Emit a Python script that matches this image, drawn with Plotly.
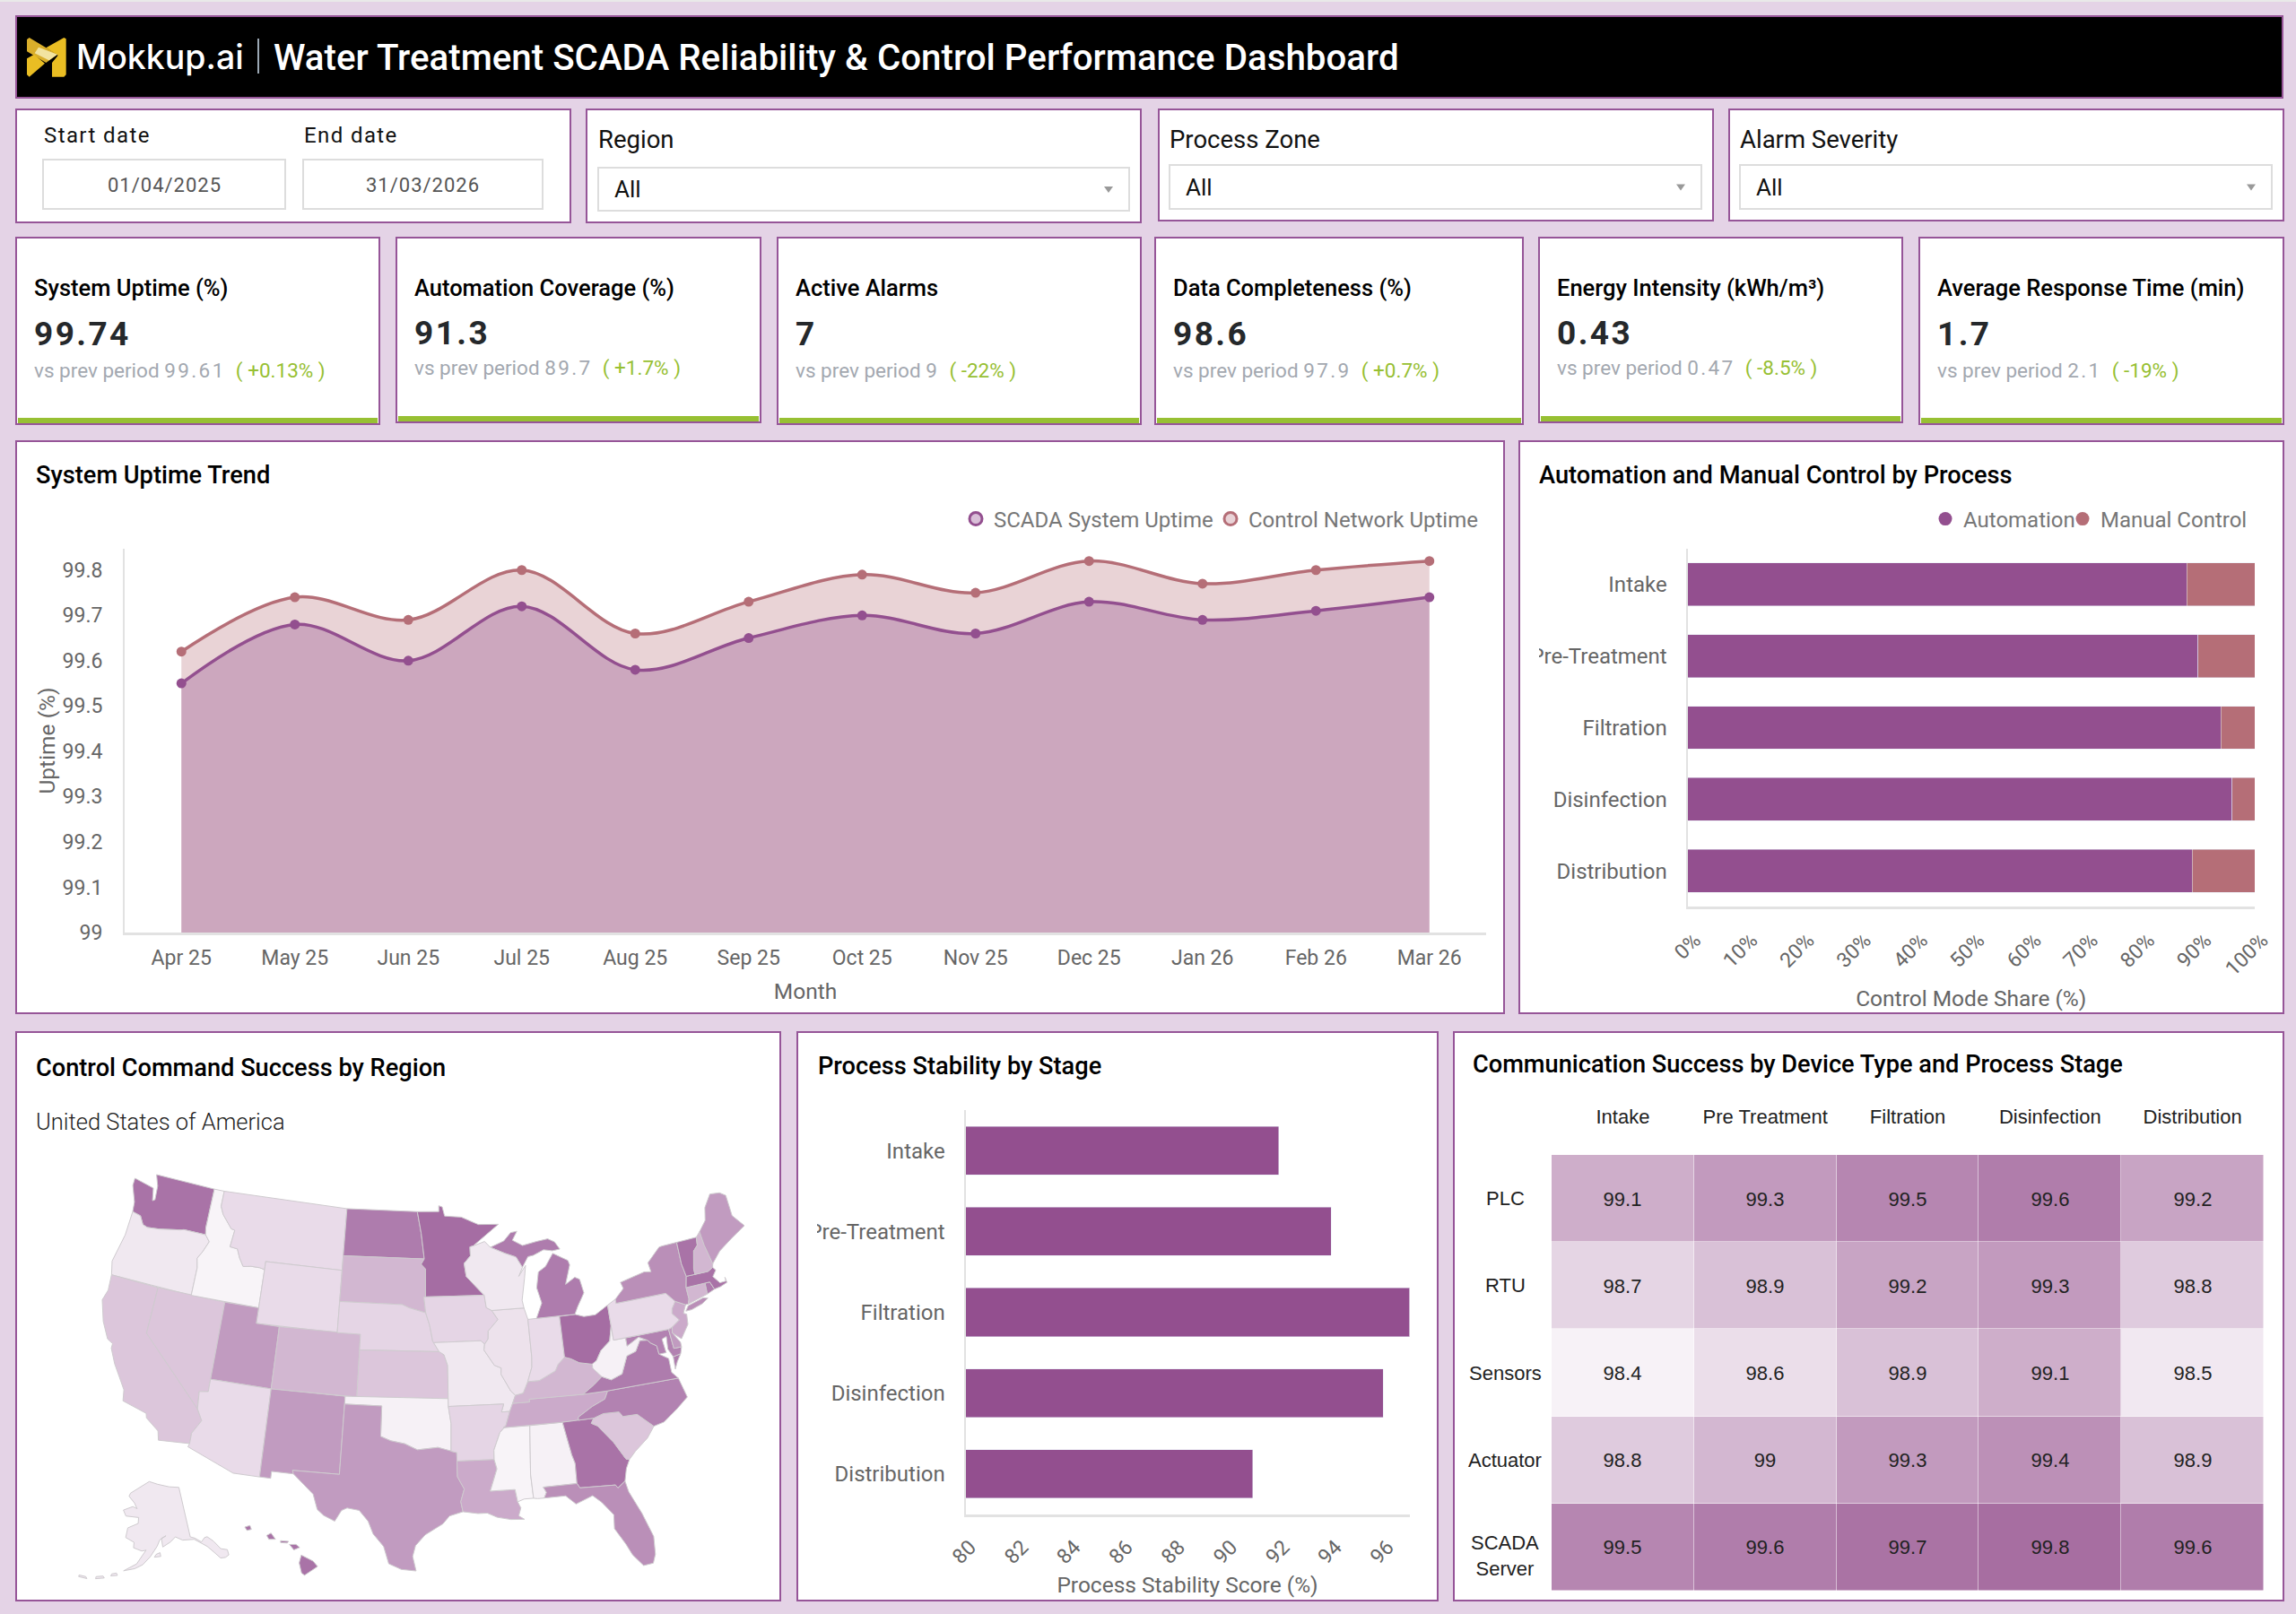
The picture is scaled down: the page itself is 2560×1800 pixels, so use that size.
import math
import plotly.graph_objects as go
from plotly.colors import sample_colorscale

W, H = 2560, 1800

PAGE_BG = "#E4D3E6"
EDGE = "#965598"
PURPLE = "#934F8F"
ROSE = "#B56E77"
GREEN = "#97C033"
AXIS = "#E2E2E2"
TICK = "#666666"

MONTHS = ["Apr 25", "May 25", "Jun 25", "Jul 25", "Aug 25", "Sep 25", "Oct 25", "Nov 25", "Dec 25", "Jan 26", "Feb 26", "Mar 26"]
SCADA_UPTIME = [99.55, 99.68, 99.60, 99.72, 99.58, 99.65, 99.70, 99.66, 99.73, 99.69, 99.71, 99.74]
NETWORK_UPTIME = [99.62, 99.74, 99.69, 99.80, 99.66, 99.73, 99.79, 99.75, 99.82, 99.77, 99.80, 99.82]

PROCESSES = ["Intake", "Pre-Treatment", "Filtration", "Disinfection", "Distribution"]
AUTOMATION = [88, 90, 94, 96, 89]
MANUAL = [12, 10, 6, 4, 11]
STABILITY = [92, 94, 97, 96, 91]

STAGES = ["Intake", "Pre Treatment", "Filtration", "Disinfection", "Distribution"]
DEVICES = ["PLC", "RTU", "Sensors", "Actuator", "SCADA Server"]
COMM_PLC = [99.1, 99.3, 99.5, 99.6, 99.2]
COMM_RTU = [98.7, 98.9, 99.2, 99.3, 98.8]
COMM_SENSORS = [98.4, 98.6, 98.9, 99.1, 98.5]
COMM_ACTUATOR = [98.8, 99, 99.3, 99.4, 98.9]
COMM_SCADA = [99.5, 99.6, 99.7, 99.8, 99.6]

KPI_TITLES = ["System Uptime (%)", "Automation Coverage (%)", "Active Alarms", "Data Completeness (%)", "Energy Intensity (kWh/m³)", "Average Response Time (min)"]
KPI_VALUES = ["99.74", "91.3", "7", "98.6", "0.43", "1.7"]
KPI_PREV = ["99.61", "89.7", "9", "97.9", "0.47", "2.1"]
KPI_DELTA = ["+0.13%", "+1.7%", "-22%", "+0.7%", "-8.5%", "-19%"]

# command success per state
STATE_VALUES = {
    "ID": 97.0, "OK": 97.05, "AL": 97.05, "MS": 97.0, "WV": 97.05, "OR": 97.2, "WI": 97.2, "AK": 97.2, "MO": 97.2,
    "MT": 97.4, "WY": 97.4, "IL": 97.3, "IN": 97.4, "PA": 97.4, "AZ": 97.4, "IA": 97.5, "NE": 97.5, "AR": 97.5,
    "CA": 97.75, "NV": 97.75, "KS": 97.75, "SC": 97.75, "SD": 98.0, "CO": 98.0, "KY": 98.0, "CT": 98.0, "NH": 98.0,
    "TN": 98.2, "LA": 98.2, "NJ": 98.2, "UT": 98.45, "NM": 98.45, "TX": 98.45, "ME": 98.45, "DE": 98.45, "NY": 98.65,
    "FL": 98.65, "NC": 98.85, "MD": 98.85, "ND": 98.95, "MI": 98.95, "VA": 98.95, "RI": 98.95, "GA": 99.1, "WA": 99.1,
    "VT": 99.1, "MA": 99.1, "HI": 99.1, "MN": 99.2, "OH": 99.2,
}

# plotly needs a CDN topojson for US states, so rough state outlines (lon, lat) live here
STATE_SHAPES = {
    "WA": [[(-124.7, 48.38), (-123.1, 48.15), (-122.75, 48.1), (-122.5, 47.3), (-122.3, 47.4), (-122.4, 48.3), (-122.8, 49), (-117.03, 49), (-117.04, 46.42), (-116.92, 45.99), (-118.98, 46), (-119.3, 45.93), (-121.2, 45.65), (-122.3, 45.55), (-122.76, 45.65), (-123.2, 46.15), (-124, 46.27), (-124.1, 46.9), (-124.7, 47.9)]],
    "OR": [[(-124.2, 42), (-124.5, 42.85), (-124.05, 44.7), (-124, 46.27), (-123.2, 46.15), (-122.76, 45.65), (-122.3, 45.55), (-121.2, 45.65), (-119.3, 45.93), (-118.98, 46), (-116.92, 45.99), (-116.46, 45.6), (-116.85, 44.9), (-117.22, 44.4), (-117.03, 43.8), (-117.03, 42)]],
    "CA": [[(-124.2, 42), (-120, 42), (-120, 39), (-114.63, 35), (-114.13, 34.3), (-114.72, 33.4), (-114.72, 32.72), (-117.12, 32.53), (-117.3, 33.1), (-118.4, 33.75), (-118.5, 34.03), (-120.5, 34.45), (-120.65, 35.15), (-121.9, 36.6), (-122.5, 37.5), (-122.5, 37.8), (-123, 38), (-123.75, 39), (-124.35, 40.3), (-124.1, 41)]],
    "NV": [[(-120, 42), (-114.04, 42), (-114.04, 36.2), (-114.75, 36.1), (-114.63, 35), (-120, 39)]],
    "ID": [[(-117.03, 49), (-116.05, 49), (-116.05, 48), (-115.7, 47.5), (-114.7, 46.7), (-114.35, 46.65), (-114.5, 45.55), (-113.8, 45.5), (-113.45, 44.95), (-113, 44.45), (-112.3, 44.55), (-111.5, 44.55), (-111.05, 44.48), (-111.05, 42), (-117.03, 42), (-117.03, 43.8), (-117.22, 44.4), (-116.85, 44.9), (-116.46, 45.6), (-116.92, 45.99), (-117.04, 46.42)]],
    "MT": [[(-116.05, 49), (-104.05, 49), (-104.05, 45), (-111.05, 45), (-111.05, 44.48), (-111.5, 44.55), (-112.3, 44.55), (-113, 44.45), (-113.45, 44.95), (-113.8, 45.5), (-114.5, 45.55), (-114.35, 46.65), (-114.7, 46.7), (-115.7, 47.5), (-116.05, 48)]],
    "WY": [[(-111.05, 45), (-104.05, 45), (-104.05, 41), (-111.05, 41)]],
    "UT": [[(-114.04, 42), (-111.05, 42), (-111.05, 41), (-109.05, 41), (-109.05, 37), (-114.04, 37)]],
    "CO": [[(-109.05, 41), (-102.05, 41), (-102.05, 37), (-109.05, 37)]],
    "AZ": [[(-114.04, 37), (-109.05, 37), (-109.05, 31.33), (-111.07, 31.33), (-114.8, 32.5), (-114.72, 32.72), (-114.72, 33.4), (-114.13, 34.3), (-114.63, 35), (-114.75, 36.1), (-114.04, 36.2)]],
    "NM": [[(-109.05, 37), (-103, 37), (-103.04, 32), (-106.62, 32), (-106.53, 31.78), (-108.2, 31.78), (-108.2, 31.33), (-109.05, 31.33)]],
    "ND": [[(-104.05, 49), (-97.23, 49), (-96.85, 47.6), (-96.56, 45.94), (-104.05, 45.94)]],
    "SD": [[(-104.05, 45.94), (-96.56, 45.94), (-96.85, 45.6), (-96.45, 45.3), (-96.45, 43.5), (-96.6, 43.5), (-96.44, 42.49), (-97.9, 42.8), (-98.5, 43), (-104.05, 43)]],
    "NE": [[(-104.05, 43), (-98.5, 43), (-97.9, 42.8), (-96.44, 42.49), (-96.1, 41.7), (-95.85, 40.7), (-95.31, 40), (-102.05, 40), (-102.05, 41), (-104.05, 41)]],
    "KS": [[(-102.05, 40), (-95.31, 40), (-94.9, 39.8), (-94.61, 39.11), (-94.62, 37), (-102.05, 37)]],
    "OK": [[(-103, 37), (-94.62, 37), (-94.62, 36.5), (-94.43, 35.4), (-94.48, 33.64), (-95.5, 33.9), (-97.1, 33.75), (-98.1, 34.13), (-99.2, 34.3), (-100, 34.56), (-100, 36.5), (-103, 36.5)]],
    "TX": [[(-106.62, 32), (-103.04, 32), (-103, 36.5), (-100, 36.5), (-100, 34.56), (-99.2, 34.3), (-98.1, 34.13), (-97.1, 33.75), (-95.5, 33.9), (-94.48, 33.64), (-94.04, 33.55), (-94.04, 32), (-93.55, 31.2), (-93.84, 30.4), (-93.7, 29.75), (-94.7, 29.5), (-95.2, 29), (-96.5, 28.3), (-97.2, 27.6), (-97.4, 26.9), (-97.15, 25.96), (-98.2, 26.05), (-99.1, 26.4), (-99.5, 27.5), (-100.3, 28.3), (-100.7, 29.1), (-101.4, 29.77), (-102.3, 29.88), (-102.7, 29.7), (-103.15, 28.98), (-104, 29.3), (-104.5, 29.65), (-104.9, 30.6), (-106.53, 31.78)]],
    "MN": [[(-97.23, 49), (-95.15, 49), (-95.15, 49.38), (-94.82, 49.3), (-94.6, 48.7), (-93, 48.6), (-91.4, 48.07), (-89.5, 48), (-92, 46.7), (-92.3, 46.65), (-92.29, 46.07), (-92.9, 45.6), (-92.75, 44.75), (-91.22, 43.5), (-96.45, 43.5), (-96.45, 45.3), (-96.85, 45.6), (-96.56, 45.94), (-96.85, 47.6)]],
    "IA": [[(-96.6, 43.5), (-91.22, 43.5), (-91.1, 42.7), (-90.64, 42.5), (-90.15, 41.9), (-91.05, 41.2), (-91.1, 40.7), (-91.42, 40.38), (-91.73, 40.61), (-95.77, 40.58), (-95.85, 40.7), (-96.1, 41.7), (-96.44, 42.49)]],
    "MO": [[(-95.77, 40.58), (-91.73, 40.61), (-91.42, 40.38), (-91.5, 40), (-90.7, 39), (-90.15, 38.8), (-90.2, 38.4), (-89.5, 37.3), (-89.15, 37), (-89.42, 36.5), (-89.7, 36), (-90.37, 36), (-90.15, 36.5), (-94.62, 36.5), (-94.62, 37), (-94.61, 39.11), (-94.9, 39.8), (-95.31, 40)]],
    "AR": [[(-94.62, 36.5), (-90.15, 36.5), (-90.37, 36), (-89.7, 36), (-90.1, 35.1), (-90.6, 34.7), (-91.15, 33.6), (-91.17, 33), (-94.04, 33), (-94.04, 33.55), (-94.48, 33.64), (-94.43, 35.4)]],
    "LA": [[(-94.04, 33), (-91.17, 33), (-91, 32.4), (-91.6, 31), (-89.73, 31), (-89.6, 30.2), (-89.4, 29.8), (-89.6, 29.3), (-89.2, 29.05), (-90.2, 29.1), (-91.2, 29.3), (-91.9, 29.6), (-92.6, 29.6), (-93.7, 29.75), (-93.84, 30.4), (-93.55, 31.2), (-94.04, 32)]],
    "MS": [[(-90.1, 35.1), (-90.3, 35), (-88.2, 35), (-88.47, 31.9), (-88.4, 30.35), (-89.1, 30.35), (-89.6, 30.2), (-89.73, 31), (-91.6, 31), (-91, 32.4), (-91.17, 33), (-91.15, 33.6), (-90.6, 34.7)]],
    "AL": [[(-88.2, 35), (-85.6, 35), (-85.18, 32.87), (-85, 32.3), (-85.05, 31), (-87.6, 31), (-87.4, 30.65), (-87.6, 30.3), (-88.1, 30.3), (-88.4, 30.35), (-88.47, 31.9)]],
    "TN": [[(-89.7, 36), (-89.42, 36.5), (-88.05, 36.5), (-88.07, 36.68), (-83.68, 36.6), (-81.68, 36.59), (-82, 36.1), (-83.1, 35.75), (-84.3, 35.2), (-84.32, 35), (-85.6, 35), (-88.2, 35), (-90.3, 35), (-90.1, 35.1)]],
    "KY": [[(-89.42, 36.5), (-89.15, 37), (-88.5, 37.1), (-88.05, 37.8), (-87.1, 37.8), (-86.3, 38.1), (-85.7, 38.3), (-85.4, 38.7), (-84.8, 39.1), (-84.3, 38.95), (-83.65, 38.63), (-82.6, 38.42), (-82.6, 38.15), (-81.97, 37.54), (-82.7, 37.1), (-83.68, 36.6), (-88.07, 36.68), (-88.05, 36.5)]],
    "IL": [[(-90.64, 42.5), (-87.8, 42.5), (-87.55, 41.75), (-87.53, 39.35), (-87.6, 38.7), (-88.05, 37.8), (-88.5, 37.1), (-89.15, 37), (-89.5, 37.3), (-90.2, 38.4), (-90.15, 38.8), (-90.7, 39), (-91.5, 40), (-91.42, 40.38), (-91.1, 40.7), (-91.05, 41.2), (-90.15, 41.9)]],
    "IN": [[(-87.55, 41.75), (-86.8, 41.76), (-84.8, 41.76), (-84.8, 39.1), (-85.4, 38.7), (-85.7, 38.3), (-86.3, 38.1), (-87.1, 37.8), (-88.05, 37.8), (-87.6, 38.7), (-87.53, 39.35)]],
    "OH": [[(-84.8, 41.72), (-83.45, 41.72), (-82.7, 41.5), (-81.7, 41.5), (-80.52, 41.98), (-80.52, 40.64), (-80.85, 39.7), (-81.7, 39.2), (-82.2, 38.6), (-82.6, 38.42), (-83.65, 38.63), (-84.3, 38.95), (-84.8, 39.1)]],
    "MI": [[(-86.8, 41.76), (-83.45, 41.72), (-83.1, 42.2), (-82.4, 43), (-82.6, 43.9), (-83, 44.07), (-83.9, 43.7), (-83.3, 44.9), (-83.4, 45.2), (-84.7, 45.78), (-85.5, 45), (-86.2, 44.7), (-86.5, 43.7), (-86.2, 42.7)],
           [(-90.4, 46.55), (-89.1, 46.9), (-88.4, 47.4), (-87.8, 47.45), (-88.3, 46.9), (-87.4, 46.5), (-86, 46.67), (-85, 46.75), (-84.4, 46.5), (-84, 46), (-84.7, 45.95), (-85.5, 46.08), (-86.5, 45.8), (-87, 45.75), (-87.6, 45.1), (-88.1, 45.8), (-89.1, 46.1)]],
    "WI": [[(-92.3, 46.65), (-92, 46.7), (-90.9, 46.95), (-90.4, 46.55), (-89.1, 46.1), (-88.1, 45.8), (-87.6, 45.1), (-88, 44.55), (-87.3, 45.2), (-87.5, 44.4), (-87.9, 43), (-87.8, 42.5), (-90.64, 42.5), (-91.1, 42.7), (-91.22, 43.5), (-92.75, 44.75), (-92.9, 45.6), (-92.29, 46.07)]],
    "GA": [[(-85.6, 35), (-84.32, 35), (-83.1, 35), (-83.35, 34.7), (-82.9, 34.48), (-81.85, 33.3), (-81.1, 32.1), (-80.85, 32.05), (-81.2, 31.5), (-81.45, 30.72), (-82.05, 30.36), (-82.2, 30.57), (-84.86, 30.7), (-85.05, 31), (-85, 32.3), (-85.18, 32.87)]],
    "FL": [[(-87.6, 31), (-85.05, 31), (-84.86, 30.7), (-82.2, 30.57), (-82.05, 30.36), (-81.45, 30.72), (-81.3, 30), (-80.6, 28.5), (-80.05, 26.9), (-80.15, 25.75), (-80.4, 25.2), (-81.1, 25.15), (-81.75, 25.95), (-82.1, 26.7), (-82.75, 27.8), (-82.65, 28.7), (-83.4, 29.6), (-84, 30.1), (-85.3, 29.7), (-86, 30.3), (-87.6, 30.3), (-87.4, 30.65)]],
    "SC": [[(-83.35, 34.7), (-83.1, 35), (-82.3, 35.2), (-81.05, 35.15), (-80.8, 34.82), (-79.67, 34.8), (-78.55, 33.86), (-79.2, 33.2), (-80.3, 32.5), (-80.85, 32.05), (-81.1, 32.1), (-81.85, 33.3), (-82.9, 34.48)]],
    "NC": [[(-84.32, 35), (-84.3, 35.2), (-83.1, 35.75), (-82, 36.1), (-81.68, 36.59), (-75.87, 36.55), (-75.5, 35.25), (-76.5, 34.65), (-77.7, 34), (-78.55, 33.86), (-79.67, 34.8), (-80.8, 34.82), (-81.05, 35.15), (-82.3, 35.2), (-83.1, 35)]],
    "VA": [[(-83.68, 36.6), (-81.68, 36.59), (-75.87, 36.55), (-76.3, 37), (-76.3, 37.9), (-77, 38.3), (-77.05, 38.85), (-77.5, 39.1), (-77.72, 39.32), (-78.35, 39.4), (-78.85, 38.77), (-79.65, 38.58), (-80.3, 37.5), (-81.25, 37.25), (-81.97, 37.54), (-82.7, 37.1)],
           [(-75.95, 37.15), (-75.9, 37.95), (-75.25, 38.03), (-75.65, 37.6)]],
    "WV": [[(-82.6, 38.42), (-82.2, 38.6), (-81.7, 39.2), (-80.85, 39.7), (-80.52, 40.64), (-80.52, 39.72), (-79.48, 39.72), (-79.48, 39.2), (-78.4, 39.62), (-77.72, 39.32), (-78.35, 39.4), (-78.85, 38.77), (-79.65, 38.58), (-80.3, 37.5), (-81.25, 37.25), (-81.97, 37.54), (-82.6, 38.15)]],
    "MD": [[(-79.48, 39.72), (-75.79, 39.72), (-75.7, 38.46), (-75.05, 38.45), (-75.25, 38.03), (-75.9, 37.95), (-76.2, 38.5), (-76.1, 39.3), (-76.5, 39.2), (-76.4, 38.3), (-77, 38.3), (-77.05, 38.85), (-77.5, 39.1), (-77.72, 39.32), (-78.4, 39.62), (-79.48, 39.2)]],
    "DE": [[(-75.79, 39.72), (-75.45, 39.8), (-75.55, 39.45), (-75.05, 38.75), (-75.05, 38.45), (-75.7, 38.46)]],
    "PA": [[(-80.52, 41.98), (-79.76, 42.27), (-79.76, 42), (-75.35, 42), (-74.7, 41.36), (-75.1, 40.95), (-75.2, 40.65), (-74.72, 40.15), (-75.45, 39.8), (-75.79, 39.72), (-80.52, 39.72), (-80.52, 40.64)]],
    "NJ": [[(-74.7, 41.36), (-73.9, 41), (-74.25, 40.5), (-74, 40.4), (-74.1, 39.75), (-74.9, 38.95), (-75.55, 39.45), (-75.45, 39.8), (-74.72, 40.15), (-75.2, 40.65), (-75.1, 40.95)]],
    "NY": [[(-79.76, 42), (-79.76, 42.27), (-78.9, 42.85), (-79.05, 43.27), (-76.8, 43.63), (-76.2, 43.55), (-76.3, 44.15), (-75, 44.98), (-74.7, 45), (-73.35, 45.01), (-73.4, 43.6), (-73.25, 42.75), (-73.5, 42.05), (-73.5, 41.3), (-73.65, 41), (-73.9, 41), (-74.7, 41.36), (-75.35, 42)],
           [(-74, 40.6), (-73.7, 40.9), (-72.3, 41.15), (-71.9, 41.05), (-72.5, 40.8), (-73.5, 40.6)]],
    "CT": [[(-73.5, 42.05), (-71.8, 42.02), (-71.85, 41.32), (-73.65, 41), (-73.5, 41.3)]],
    "RI": [[(-71.8, 42.02), (-71.38, 42.02), (-71.15, 41.5), (-71.85, 41.32)]],
    "MA": [[(-73.5, 42.05), (-73.25, 42.75), (-71.3, 42.7), (-70.8, 42.87), (-70.6, 42.65), (-71, 42.3), (-70.55, 41.8), (-70, 41.8), (-70, 42.05), (-69.95, 41.7), (-70.6, 41.55), (-71.15, 41.5), (-71.38, 42.02), (-71.8, 42.02)]],
    "VT": [[(-73.35, 45.01), (-71.5, 45.01), (-71.6, 44.5), (-72.05, 44.2), (-72.45, 43.1), (-72.46, 42.73), (-73.25, 42.75), (-73.4, 43.6)]],
    "NH": [[(-71.5, 45.01), (-71.08, 45.3), (-71, 44.4), (-70.7, 43.1), (-70.8, 42.87), (-71.3, 42.7), (-72.46, 42.73), (-72.45, 43.1), (-72.05, 44.2), (-71.6, 44.5)]],
    "ME": [[(-71.08, 45.3), (-70.3, 45.9), (-70, 46.7), (-69.2, 47.45), (-68.3, 47.35), (-67.8, 47.07), (-67.8, 45.7), (-67.45, 45.3), (-67, 44.85), (-68.5, 44.3), (-69.8, 43.75), (-70.7, 43.1), (-71, 44.4)]],
    "AK": [[(-141, 69.65), (-141, 60.3), (-139.5, 59.9), (-137.5, 58.9), (-136, 59.5), (-135, 59.5), (-133.4, 58.4), (-131.9, 56.6), (-130, 56), (-130.2, 55), (-131.5, 54.8), (-133, 55), (-134.5, 56.5), (-136, 57.8), (-137.5, 58.6), (-139.8, 59.7), (-144, 60), (-146.5, 60.8), (-148.5, 60), (-151.5, 59.2), (-151.8, 60.8), (-150, 61.2), (-152.5, 60.5), (-153.5, 59.4), (-156, 57.5), (-158.5, 56), (-161, 55.2), (-164.5, 54.6), (-160.5, 56.1), (-157.5, 58.7), (-159, 58.5), (-162, 59), (-162, 60), (-165.3, 60.7), (-165, 62.5), (-161, 63.5), (-161, 64.6), (-166.5, 64.6), (-168, 65.6), (-164, 66.5), (-162, 66.2), (-163.5, 67.2), (-166.5, 68.3), (-166, 68.9), (-162, 70), (-156.6, 71.35), (-152, 70.8), (-146, 70.1)],
           [(-154.6, 57.4), (-152.4, 57.5), (-152.6, 58.2), (-154, 57.9)],
           [(-168.2, 53.3), (-166.2, 53.6), (-166.6, 54), (-168, 53.7)],
           [(-172.5, 52.2), (-170, 52.7), (-170.5, 53), (-172.5, 52.6)],
           [(-177.5, 51.7), (-175, 51.8), (-175.5, 52.1), (-177.5, 52)]],
    "HI": [[(-155.9, 20.25), (-155.1, 19.85), (-154.8, 19.5), (-155.7, 18.95), (-155.9, 19.1), (-156.05, 19.75)],
           [(-156.7, 20.95), (-156.25, 20.95), (-156, 20.75), (-156.4, 20.6)],
           [(-158.25, 21.55), (-157.95, 21.7), (-157.65, 21.3), (-158.1, 21.3)],
           [(-159.75, 22.1), (-159.4, 22.2), (-159.3, 21.95), (-159.6, 21.88)],
           [(-157.3, 21.2), (-156.75, 21.15), (-156.85, 21.05), (-157.3, 21.08)]],
}


def px(x):
    return x / W


def py(y):
    return 1 - y / H


def albers(lon, lat, lon0, lat0, p1, p2):
    s1, s2 = math.radians(p1), math.radians(p2)
    n = (math.sin(s1) + math.sin(s2)) / 2
    c = math.cos(s1) ** 2 + 2 * n * math.sin(s1)
    rho = math.sqrt(c - 2 * n * math.sin(math.radians(lat))) / n
    rho0 = math.sqrt(c - 2 * n * math.sin(math.radians(lat0))) / n
    theta = n * math.radians(lon - lon0)
    return rho * math.sin(theta), rho0 - rho * math.cos(theta)


def project(state, lon, lat):
    # same insets as the usual Albers USA layout
    if state == "AK":
        x, y = albers(lon, lat, -156, 58.5, 55, 65)
        return x * 0.35 - 0.307, y * 0.35 - 0.201
    if state == "HI":
        x, y = albers(lon, lat, -160, 19.9, 8, 18)
        return x - 0.205, y - 0.212
    return albers(lon, lat, -96.6, 38.7, 29.5, 45.5)


fig = go.Figure()
shapes = []
notes = []


def rect(x0, y0, x1, y1, fill="white", line=EDGE, width=2, layer="below"):
    shapes.append(dict(type="rect", xref="paper", yref="paper", x0=px(x0), x1=px(x1), y0=py(y0), y1=py(y1),
                       fillcolor=fill, line=dict(color=line, width=width), layer=layer))


def poly(points, fill):
    d = "M" + " L".join(f"{px(x):.5f},{py(y):.5f}" for x, y in points) + " Z"
    shapes.append(dict(type="path", xref="paper", yref="paper", path=d, fillcolor=fill, line=dict(width=0), layer="below"))


def note(x, y, text, size=24, color="#000000", weight=400, family="Roboto", anchor="left", angle=0):
    notes.append(dict(xref="paper", yref="paper", x=px(x), y=py(y), text=text, showarrow=False, xanchor=anchor,
                      yanchor="middle", textangle=angle, font=dict(family=family, size=size, color=color, weight=weight)))


# page furniture
rect(0, 0, W, 2, fill="#E9E9E9", line="#E9E9E9", width=0)
rect(18, 18, 2545, 109, fill="#000000")
for x0, x1 in [(18, 636), (654, 1272)]:
    rect(x0, 122, x1, 248)
for x0, x1 in [(1292, 1910), (1928, 2546)]:
    rect(x0, 122, x1, 246)

# logo
ox, oy = 18, 20
logo_parts = [
    ([(167, 70), (160, 66), (100, 100), (140, 125), (120, 150), (120, 197), (160, 197), (167, 190)], "#E9BD23"),
    ([(36, 72), (44, 66), (138, 122), (100, 150), (36, 112)], "#D9AE2B"),
    ([(36, 136), (60, 122), (96, 152), (44, 197), (36, 190)], "#E9BD23"),
    ([(75, 98), (138, 122), (110, 142), (62, 118)], "#F2E3A0"),
]
for pts, col in logo_parts:
    poly([(ox + x / 3, oy + y / 3) for x, y in pts], col)
shapes.append(dict(type="line", xref="paper", yref="paper", x0=px(288), x1=px(288), y0=py(43), y1=py(82),
                   line=dict(color="#CFE0F0", width=1.5), layer="below"))
note(83, 63, "Mokkup.ai", size=37.5, color="white", weight=500, family="Inter")
note(303, 64, "Water Treatment SCADA Reliability &amp; Control Performance Dashboard", size=40.3, color="white", weight=500)

# filters
note(47, 151, '<span style="letter-spacing:1.4px">Start date</span>', size=24, color="#111111")
note(337, 151, '<span style="letter-spacing:1.4px">End date</span>', size=24, color="#111111")
for x0, x1, txt in [(48, 318, "01/04/2025"), (338, 605, "31/03/2026")]:
    rect(x0, 178, x1, 233, line="#DDDDDD", width=2)
    note((x0 + x1) / 2, 206, f'<span style="letter-spacing:1px">{txt}</span>', size=22, color="#555555", anchor="center")

filters = [("Region", 667, 1259, 187, 235), ("Process Zone", 1304, 1897, 184, 233), ("Alarm Severity", 1940, 2533, 184, 233)]
for label, x0, x1, y0, y1 in filters:
    note(x0 - 2, 155, label, size=27.5, color="#111111")
    rect(x0, y0, x1, y1, line="#DDDDDD", width=2)
    note(x0 + 16, (y0 + y1) / 2, "All", size=26, color="#111111")
    tx, ty = x1 - 23, (y0 + y1) / 2
    poly([(tx - 5, ty - 3), (tx + 5, ty - 3), (tx, ty + 4)], "#999999")

# KPI cards
card_edges = [(18, 423), (442, 848), (867, 1272), (1288, 1698), (1716, 2121), (2140, 2546)]
for i, (x0, x1) in enumerate(card_edges):
    shift = -2 if i in (1, 4) else 0
    rect(x0, 265, x1, 473 + shift)
    rect(x0 + 2, 466 + shift, x1 - 2, 472 + shift, fill=GREEN, line=GREEN, width=0)
    tx = x0 + 18
    note(tx, 321, KPI_TITLES[i], size=25.5, color="#000000", weight=500)
    note(tx, 373 + shift, f'<span style="letter-spacing:2.4px">{KPI_VALUES[i]}</span>', size=37, color="#25282B", weight=700)
    note(tx, 413 + shift,
         f'vs prev period <span style="letter-spacing:2.4px">{KPI_PREV[i]}</span>'
         f'<span style="fill:{GREEN}">  ( {KPI_DELTA[i]} )</span>', size=22.5, color="#A3A8B0")

# chart panels
rect(18, 492, 1677, 1130)
rect(1694, 492, 2546, 1130)
rect(18, 1151, 870, 1785)
rect(889, 1151, 1603, 1785)
rect(1621, 1151, 2546, 1785)
note(38, 530, "System Uptime Trend", size=27.2, weight=500)
note(1714, 530, "Automation and Manual Control by Process", size=27.2, weight=500)
note(38, 1191, "Control Command Success by Region", size=27.2, weight=500)
note(38, 1251, "United States of America", size=25.5, color="#222222", weight=300)
note(910, 1189, "Process Stability by Stage", size=27.2, weight=500)
note(1640, 1187, "Communication Success by Device Type and Process Stage", size=27.2, weight=500)

# uptime trend
fig.add_trace(go.Scatter(x=MONTHS, y=NETWORK_UPTIME, mode="lines+markers", fill="tozeroy", fillcolor="rgba(181,110,119,0.3)",
                         line=dict(color=ROSE, width=3.5, shape="spline", smoothing=1), marker=dict(size=11, color=ROSE),
                         showlegend=False, xaxis="x", yaxis="y"))
fig.add_trace(go.Scatter(x=MONTHS, y=SCADA_UPTIME, mode="lines+markers", fill="tozeroy", fillcolor="rgba(147,79,143,0.33)",
                         line=dict(color=PURPLE, width=3.5, shape="spline", smoothing=1), marker=dict(size=11, color=PURPLE),
                         showlegend=False, xaxis="x", yaxis="y"))

# automation / manual
fig.add_trace(go.Bar(y=PROCESSES, x=AUTOMATION, orientation="h", name="Automation", marker_color=PURPLE, showlegend=False, xaxis="x2", yaxis="y2"))
fig.add_trace(go.Bar(y=PROCESSES, x=MANUAL, orientation="h", name="Manual Control", marker_color=ROSE, showlegend=False, xaxis="x2", yaxis="y2"))

# one legend per entry so each key sits where it does in the dashboard
legend_font = dict(family="Roboto", size=24, color="#777777")
legend_items = [
    ("legend", "SCADA System Uptime", 1090, dict(size=14, color="#D9BFD8", line=dict(color=PURPLE, width=3)), "x", "y"),
    ("legend2", "Control Network Uptime", 1374, dict(size=14, color="#E9D3D7", line=dict(color=ROSE, width=3)), "x", "y"),
    ("legend3", "Automation", 2171, dict(size=15, color=PURPLE), "x2", "y2"),
    ("legend4", "Manual Control", 2324, dict(size=15, color=ROSE), "x2", "y2"),
]
legend_layout = {}
for key, name, icon_x, mark, xa, ya in legend_items:
    fig.add_trace(go.Scatter(x=[None], y=[None], mode="markers", name=name, legend=key, xaxis=xa, yaxis=ya, marker=mark))
    legend_layout[key] = dict(x=px(icon_x - 22), xanchor="left", y=py(579), yanchor="middle", orientation="h", bgcolor="rgba(0,0,0,0)",
                              font=legend_font, itemclick=False, itemdoubleclick=False, borderwidth=0)

# state map
scale_map = [[0, "#F8F4F8"], [1, "#A56DA3"]]
vmin, vmax = 97.0, 99.2
mx = []
my = []
for st, parts in STATE_SHAPES.items():
    xs, ys = [], []
    for part in parts:
        for lon, lat in part + part[:1]:
            x, y = project(st, lon, lat)
            xs.append(x)
            ys.append(y)
        xs.append(None)
        ys.append(None)
    mx.append(xs)
    my.append(ys)
lower = [i for i, st in enumerate(STATE_SHAPES) if st not in ("AK", "HI")]
all_x = [v for i in lower for v in mx[i] if v is not None]
all_y = [v for i in lower for v in my[i] if v is not None]
map_k = (830 - 114) / (max(all_x) - min(all_x))
map_box = (30, 860, 1280, 1780)
x_lo = min(all_x) - (114 - map_box[0]) / map_k
x_hi = x_lo + (map_box[1] - map_box[0]) / map_k
y_hi = max(all_y) + (1310 - map_box[2]) / map_k
y_lo = y_hi - (map_box[3] - map_box[2]) / map_k
for i, st in enumerate(STATE_SHAPES):
    t = (STATE_VALUES[st] - vmin) / (vmax - vmin)
    col = sample_colorscale(scale_map, [t])[0]
    fig.add_trace(go.Scatter(x=mx[i], y=my[i], mode="lines", fill="toself", fillcolor=col, name=st, showlegend=False,
                             line=dict(color="#CFCBCF", width=1), hovertext=f"{st}: {STATE_VALUES[st]}", hoverinfo="text",
                             xaxis="x3", yaxis="y3"))

# process stability
fig.add_trace(go.Bar(y=PROCESSES, x=STABILITY, orientation="h", marker_color=PURPLE, showlegend=False, xaxis="x4", yaxis="y4"))

# communication heatmap
comm = [COMM_PLC, COMM_RTU, COMM_SENSORS, COMM_ACTUATOR, COMM_SCADA]
fig.add_trace(go.Heatmap(z=comm, x=STAGES, y=DEVICES, zmin=98.4, zmax=99.75, showscale=False, xgap=0.5, ygap=0.5,
                         colorscale=[[0, "#F7F2F7"], [1, "#A76EA1"]], texttemplate="%{z}",
                         textfont=dict(family="Liberation Sans", size=22, color="#222222"), xaxis="x5", yaxis="y5"))
for name in DEVICES:
    notes.append(dict(xref="paper", yref="y5", x=px(1678), y=name, text=name.replace(" ", "<br>"), showarrow=False, xanchor="center",
                      yshift=-10 if " " in name else 0, font=dict(family="Liberation Sans", size=22, color="#222222")))

# hide the clipped first letter of the long category labels
rect(1697, 700, 1716, 780, line="white", width=0, layer="above")
rect(892, 1340, 911, 1400, line="white", width=0, layer="above")

tick_font = dict(family="Roboto", size=23, color=TICK)
cat_font = dict(family="Roboto", size=24, color=TICK)
title_font = dict(family="Roboto", size=24.5, color=TICK)


def dom_x(a, b):
    return [px(a), px(b)]


def dom_y(top, bottom):
    return [py(bottom), py(top)]


fig.update_layout(
    width=W, height=H, margin=dict(l=0, r=0, t=0, b=0, autoexpand=False), paper_bgcolor=PAGE_BG, plot_bgcolor="rgba(0,0,0,0)",
    barmode="stack", shapes=shapes, annotations=notes,
    font=dict(family="Roboto"),
    xaxis=dict(domain=dom_x(139, 1657), anchor="y", range=[-0.5, 11.5], type="category", tickfont=tick_font, showgrid=False, showline=True, linecolor=AXIS, linewidth=3,
               ticks="", ticklabelstandoff=5, title=dict(text="Month", font=title_font, standoff=17), zeroline=False),
    yaxis=dict(domain=dom_y(612, 1040), anchor="x", range=[99, 99.847], dtick=0.1, tick0=99, tickfont=tick_font, showgrid=False,
               showline=True, linecolor=AXIS, linewidth=2, ticks="", ticklabelstandoff=18,
               title=dict(text="Uptime (%)", font=title_font, standoff=1), zeroline=False),
    xaxis2=dict(domain=dom_x(1881.5, 2514), anchor="y2", range=[0, 100], dtick=10, ticksuffix="%", tickangle=-45, tickfont=tick_font,
                showgrid=False, showline=True, linecolor=AXIS, linewidth=3, ticks="", ticklabelstandoff=12, ticklabelshift=8,
                title=dict(text="Control Mode Share (%)", font=title_font, standoff=13), zeroline=False),
    yaxis2=dict(domain=dom_y(612, 1011), anchor="x2", autorange="reversed", tickfont=cat_font, showgrid=False, showline=True,
                linecolor=AXIS, linewidth=2, ticks="", ticklabelstandoff=16),
    xaxis3=dict(domain=dom_x(map_box[0], map_box[1]), anchor="y3", range=[x_lo, x_hi], visible=False),
    yaxis3=dict(domain=dom_y(map_box[2], map_box[3]), anchor="x3", range=[y_lo, y_hi], visible=False),
    xaxis4=dict(domain=dom_x(1076.5, 1571.5), anchor="y4", range=[80, 97], dtick=2, tick0=80, tickangle=-45, tickfont=tick_font,
                showgrid=False, showline=True, linecolor=AXIS, linewidth=3, ticks="", ticklabelstandoff=11, ticklabelshift=5,
                title=dict(text="Process Stability Score (%)", font=title_font, standoff=11), zeroline=False),
    yaxis4=dict(domain=dom_y(1238, 1689), anchor="x4", autorange="reversed", tickfont=cat_font, showgrid=False, showline=True,
                linecolor=AXIS, linewidth=2, ticks="", ticklabelstandoff=16),
    xaxis5=dict(domain=dom_x(1730, 2524), anchor="y5", side="top", tickfont=dict(family="Liberation Sans", size=22, color="#222222"),
                showgrid=False, ticks="", ticklabelstandoff=30, zeroline=False),
    yaxis5=dict(domain=dom_y(1288, 1774), anchor="x5", autorange="reversed", showticklabels=False, showgrid=False, ticks="", zeroline=False),
    bargap=0.4,
    **legend_layout,
)

fig.update_traces(hoverinfo="skip", selector=dict(type="bar"))

fig.write_html("out.html", config=dict(displayModeBar=False),
               post_script=f"document.body.style.margin='0';document.body.style.background='{PAGE_BG}';")
